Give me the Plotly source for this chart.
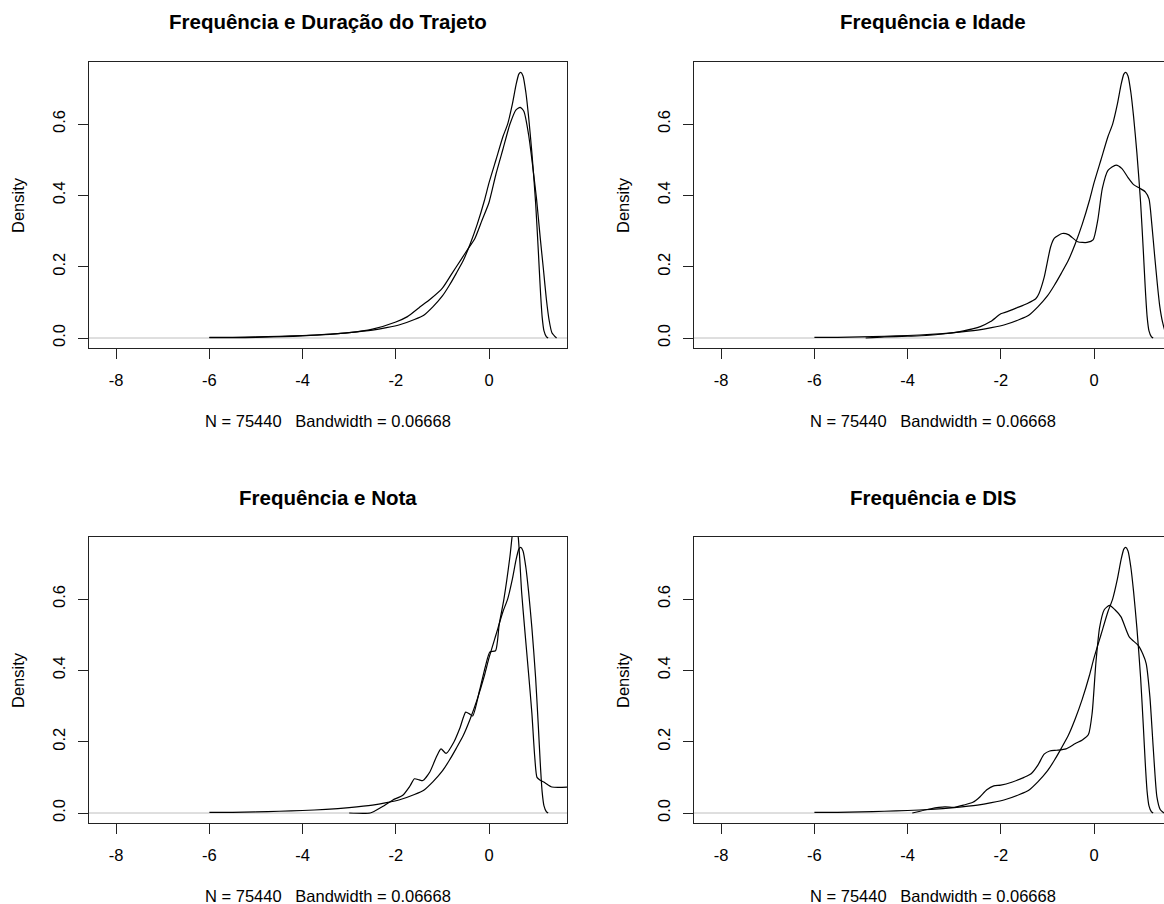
import plotly.graph_objects as go

W, H = 1164, 904

# ---- data ----
main_x = [-6.0, -5.5, -5.0, -4.5, -4.0, -3.5, -3.0, -2.5, -2.2, -1.9, -1.6, -1.4, -1.2, -1.0, -0.85, -0.7,
          -0.55, -0.4, -0.25, -0.1, 0.0, 0.15, 0.3, 0.4, 0.5, 0.58, 0.64, 0.68, 0.73, 0.79, 0.85, 0.92,
          1.0, 1.06, 1.1, 1.14, 1.18, 1.23, 1.27]
main_y = [0.002, 0.002, 0.003, 0.005, 0.007, 0.010, 0.015, 0.022, 0.029, 0.038, 0.052, 0.064, 0.088, 0.118,
          0.148, 0.182, 0.218, 0.265, 0.32, 0.385, 0.435, 0.5, 0.565, 0.6, 0.655, 0.71, 0.74, 0.745, 0.735,
          0.69, 0.62, 0.52, 0.38, 0.24, 0.14, 0.06, 0.02, 0.004, 0.0]

trajeto_x = [-6.0, -5.0, -4.0, -3.0, -2.5, -2.0, -1.75, -1.5, -1.25, -1.0, -0.8, -0.6, -0.45, -0.3, -0.15,
             0.0, 0.15, 0.3, 0.45, 0.58, 0.67, 0.75, 0.85, 0.93, 1.02, 1.1, 1.17, 1.23, 1.29, 1.35, 1.45]
trajeto_y = [0.001, 0.002, 0.006, 0.015, 0.025, 0.045, 0.06, 0.085, 0.11, 0.14, 0.18, 0.22, 0.25, 0.28, 0.33,
             0.38, 0.46, 0.53, 0.6, 0.64, 0.647, 0.635, 0.57, 0.49, 0.39, 0.28, 0.19, 0.11, 0.05, 0.015, 0.0]

idade_x = [-4.9, -4.5, -4.0, -3.6, -3.2, -2.8, -2.44, -2.22, -2.0, -1.86, -1.65, -1.43, -1.25, -1.18, -1.07,
           -0.93, -0.85, -0.68, -0.55, -0.35, -0.15, -0.02, 0.08, 0.18, 0.3, 0.475, 0.6, 0.73, 0.85, 0.98,
           1.1, 1.18, 1.24, 1.30, 1.36, 1.41, 1.47, 1.53, 1.6, 1.7]
idade_y = [0.0, 0.003, 0.005, 0.007, 0.012, 0.02, 0.032, 0.046, 0.068, 0.074, 0.085, 0.097, 0.11, 0.125, 0.17,
           0.256, 0.28, 0.293, 0.29, 0.27, 0.268, 0.275, 0.33, 0.42, 0.47, 0.485, 0.475, 0.45, 0.43, 0.42,
           0.41, 0.39, 0.32, 0.233, 0.15, 0.09, 0.045, 0.018, 0.005, 0.0]

nota_x = [-3.0, -2.55, -2.3, -2.07, -1.85, -1.7, -1.6, -1.5, -1.42, -1.27, -1.12, -1.03, -0.92, -0.75, -0.62,
          -0.5, -0.42, -0.35, -0.2, -0.08, 0.02, 0.14, 0.22, 0.32, 0.45, 0.52, 0.57, 0.63, 0.7, 0.77, 0.85,
          0.92, 0.98, 1.03, 1.1, 1.2, 1.35, 1.75]
nota_y = [0.0, 0.0, 0.017, 0.036, 0.05, 0.075, 0.096, 0.093, 0.091, 0.115, 0.16, 0.18, 0.167, 0.2, 0.24,
          0.283, 0.278, 0.272, 0.345, 0.41, 0.452, 0.455, 0.53, 0.6, 0.72, 0.8, 0.82, 0.77, 0.62, 0.51, 0.39,
          0.28, 0.16, 0.10, 0.092, 0.085, 0.073, 0.073]

dis_x = [-3.9, -3.5, -3.2, -3.0, -2.8, -2.6, -2.45, -2.3, -2.15, -2.0, -1.75, -1.5, -1.35, -1.2, -1.07, -0.95,
         -0.8, -0.6, -0.4, -0.25, -0.12, -0.04, 0.04, 0.12, 0.22, 0.33, 0.45, 0.58, 0.76, 0.95, 1.05, 1.12,
         1.2, 1.27, 1.35, 1.42, 1.5]
dis_y = [0.0, 0.012, 0.017, 0.016, 0.022, 0.03, 0.045, 0.065, 0.076, 0.078, 0.087, 0.1, 0.11, 0.135, 0.165,
         0.174, 0.176, 0.18, 0.195, 0.205, 0.22, 0.28, 0.42, 0.52, 0.57, 0.582, 0.57, 0.55, 0.493, 0.47,
         0.445, 0.419, 0.325, 0.185, 0.045, 0.01, 0.0]

titles = ["Frequência e Duração do Trajeto", "Frequência e Idade", "Frequência e Nota", "Frequência e DIS"]
second_x = [trajeto_x, idade_x, nota_x, dis_x]
second_y = [trajeto_y, idade_y, nota_y, dis_y]
xlabel = "N = 75440   Bandwidth = 0.06668"
ylabel = "Density"
x_ticks = [-8, -6, -4, -2, 0]
y_ticks = [0.0, 0.2, 0.4, 0.6]
y_tick_text = ["0.0", "0.2", "0.4", "0.6"]

# ---- layout geometry (pixels) ----
FONT = "Liberation Sans, Arial, sans-serif"
TXT = 16.5
offsets = [(0, 0), (605, 0), (0, 475), (605, 475)]
BOX_L, BOX_R, BOX_T, BOX_B = 89, 567, 62, 348
PX_PER_X = 46.6
X0_PX = 489  # pixel of x = 0 in the left panels

fig = go.Figure()
shapes = []
annotations = []

for i, (dx, dy) in enumerate(offsets):
    k = "" if i == 0 else str(i + 1)
    xa, ya = "x" + k, "y" + k
    left = BOX_L + dx
    right_full = BOX_R + dx
    right = min(right_full, W)
    top, bottom = BOX_T + dy, BOX_B + dy
    x_lo = (left - (X0_PX + dx)) / PX_PER_X
    x_hi = (right - (X0_PX + dx)) / PX_PER_X
    clipped = right_full > W

    line_style = dict(color="black", width=1.2, shape="spline", smoothing=0.6)
    fig.add_trace(go.Scatter(x=main_x, y=main_y, mode="lines", xaxis=xa, yaxis=ya,
                             line=line_style, showlegend=False, hoverinfo="skip"))
    fig.add_trace(go.Scatter(x=second_x[i], y=second_y[i], mode="lines", xaxis=xa, yaxis=ya,
                             line=line_style, showlegend=False, hoverinfo="skip"))

    axis_common = dict(showgrid=False, zeroline=False, showline=True, linecolor="#222222", linewidth=1.2,
                       ticks="outside", ticklen=10, tickwidth=1, tickcolor="#222222",
                       tickfont=dict(family=FONT, size=TXT, color="black"), fixedrange=True)
    fig.layout["xaxis" + k] = dict(axis_common, domain=[left / W, right / W], range=[x_lo, x_hi],
                                   anchor=ya, tickmode="array", tickvals=x_ticks,
                                   ticktext=[str(v) for v in x_ticks], mirror=True, ticklabelstandoff=7)
    fig.layout["yaxis" + k] = dict(axis_common, domain=[1 - bottom / H, 1 - top / H],
                                   range=[-0.028, 0.774], anchor=xa, tickmode="array", tickvals=y_ticks,
                                   ticktext=y_tick_text, tickangle=-90, mirror=(not clipped),
                                   ticklabelstandoff=6)

    shapes.append(dict(type="line", xref=xa + " domain", yref=ya, x0=0, x1=1, y0=0, y1=0,
                       line=dict(color="#BEBEBE", width=1), layer="below"))

    cx = (left + right_full) / 2
    annotations.append(dict(text="<b>" + titles[i] + "</b>", x=cx / W, y=1 - (22 + dy) / H,
                            xref="paper", yref="paper", showarrow=False, xanchor="center",
                            yanchor="middle", font=dict(family=FONT, size=20.5, color="black")))
    annotations.append(dict(text=xlabel.replace(" ", "\u00a0"), x=cx / W, y=1 - (421 + dy) / H,
                            xref="paper", yref="paper", showarrow=False, xanchor="center",
                            yanchor="middle", font=dict(family=FONT, size=TXT, color="black")))
    annotations.append(dict(text=ylabel, x=(18 + dx) / W, y=1 - ((top + bottom) / 2) / H,
                            xref="paper", yref="paper", showarrow=False, xanchor="center",
                            yanchor="middle", textangle=-90,
                            font=dict(family=FONT, size=TXT, color="black")))

fig.update_layout(width=W, height=H, margin=dict(l=0, r=0, t=0, b=0), paper_bgcolor="white",
                  plot_bgcolor="white", shapes=shapes, annotations=annotations, showlegend=False)

fig.write_html("out.html", config={"displayModeBar": False})
